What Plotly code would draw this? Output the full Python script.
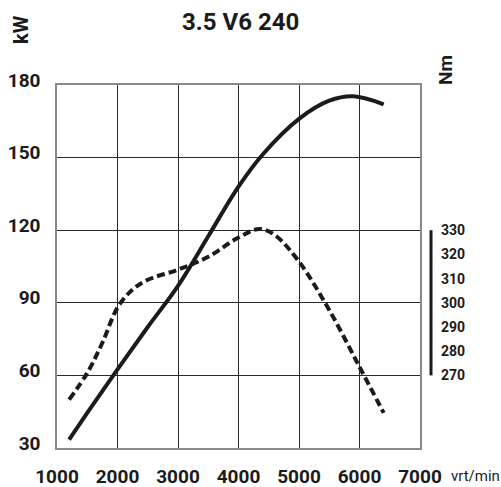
import plotly.graph_objects as go

# --- data ---
power_rpm = [1200, 1500, 2000, 2500, 3000, 3500, 4000, 4400, 5000, 5500, 5900, 6400]
power_kw = [33.5, 44.5, 62.5, 80, 97, 117.5, 138, 151.3, 166, 173.5, 175.3, 172]

torque_rpm = [1200, 1500, 1750, 2000, 2250, 2500, 3000, 3500, 4000, 4350, 4600, 5000, 5500, 6000, 6400]
torque_nm = [260, 271, 283.5, 298, 305.5, 309.5, 313.7, 319, 327, 330.5, 328, 317, 297, 273.5, 254.5]

x_ticks = [1000, 2000, 3000, 4000, 5000, 6000, 7000]
kw_ticks = [30, 60, 90, 120, 150, 180]
nm_ticks = [270, 280, 290, 300, 310, 320, 330]

title = "3.5 V6 240"
FONT = "Roboto, 'DejaVu Sans Condensed', sans-serif"
INK = "#1b1b1b"

W, H = 501, 487
ML, MT, MB, MR = 57, 85, 39, 0
plot_w = W - ML - MR
x_dom_end = 363 / plot_w

fig = go.Figure()
fig.add_trace(go.Scatter(x=power_rpm, y=power_kw, mode="lines",
                         line=dict(color=INK, width=4, shape="spline", smoothing=1.0),
                         hoverinfo="skip", showlegend=False))
fig.add_trace(go.Scatter(x=torque_rpm, y=torque_nm, mode="lines", yaxis="y2",
                         line=dict(color=INK, width=4, shape="spline", smoothing=1.0, dash="8px,4px"),
                         hoverinfo="skip", showlegend=False))

axis_font = dict(family=FONT, size=19, color=INK, weight="bold")

fig.update_layout(
    width=W, height=H,
    margin=dict(l=ML, r=MR, t=MT, b=MB, autoexpand=False),
    paper_bgcolor="white", plot_bgcolor="white",
    xaxis=dict(domain=[0, x_dom_end], range=[1000, 7000], tickvals=x_ticks,
               ticktext=[str(v) for v in x_ticks], automargin=False,
               showgrid=True, gridcolor="#2a2a2a", gridwidth=1,
               showline=True, linecolor="#8a8a8a", linewidth=1.5, mirror=True,
               zeroline=False, ticks="", tickfont=axis_font, ticklabelstandoff=10),
    yaxis=dict(range=[30, 180], tickvals=kw_ticks, ticktext=[str(v) for v in kw_ticks],
               automargin=False,
               showgrid=True, gridcolor="#2a2a2a", gridwidth=1,
               showline=True, linecolor="#8a8a8a", linewidth=1.5, mirror=True,
               zeroline=False, ticks="", tickfont=axis_font, ticklabelstandoff=11,
               ticklabelshift=-5),
    yaxis2=dict(range=[240, 390], overlaying="y", side="right", anchor="free",
                position=(431 - ML) / plot_w, tickvals=nm_ticks,
                ticktext=[str(v) for v in nm_ticks], automargin=False,
                showgrid=False, showline=False, zeroline=False, ticks="",
                tickfont=dict(family=FONT, size=14, color=INK, weight="bold"),
                ticklabelstandoff=9),
)

fig.add_shape(type="line", xref="paper", yref="y2",
              x0=(431 - ML) / plot_w, x1=(431 - ML) / plot_w,
              y0=nm_ticks[0], y1=nm_ticks[-1],
              line=dict(color=INK, width=3))

ph = H - MT - MB

def px_x(px):
    return (px - ML) / plot_w

def px_y(py):
    return (H - MB - py) / ph

fig.add_annotation(text=title, x=px_x(240), y=px_y(22), xref="paper", yref="paper",
                   showarrow=False, xanchor="center", yanchor="middle",
                   font=dict(family=FONT, size=24, color=INK, weight="bold"))
fig.add_annotation(text="kW", x=px_x(21), y=px_y(30), xref="paper", yref="paper",
                   showarrow=False, xanchor="center", yanchor="middle", textangle=-90,
                   font=dict(family=FONT, size=20, color=INK, weight="bold"))
fig.add_annotation(text="Nm", x=px_x(446), y=px_y(70), xref="paper", yref="paper",
                   showarrow=False, xanchor="center", yanchor="middle", textangle=-90,
                   font=dict(family=FONT, size=19, color=INK, weight="bold"))
fig.add_annotation(text="vrt/min", x=px_x(449), y=px_y(476), xref="paper", yref="paper",
                   showarrow=False, xanchor="left", yanchor="middle",
                   font=dict(family=FONT, size=15, color=INK))

fig.write_html("out.html", config={"displayModeBar": False},
               post_script="document.body.style.margin='0px';document.body.style.overflow='hidden';")
